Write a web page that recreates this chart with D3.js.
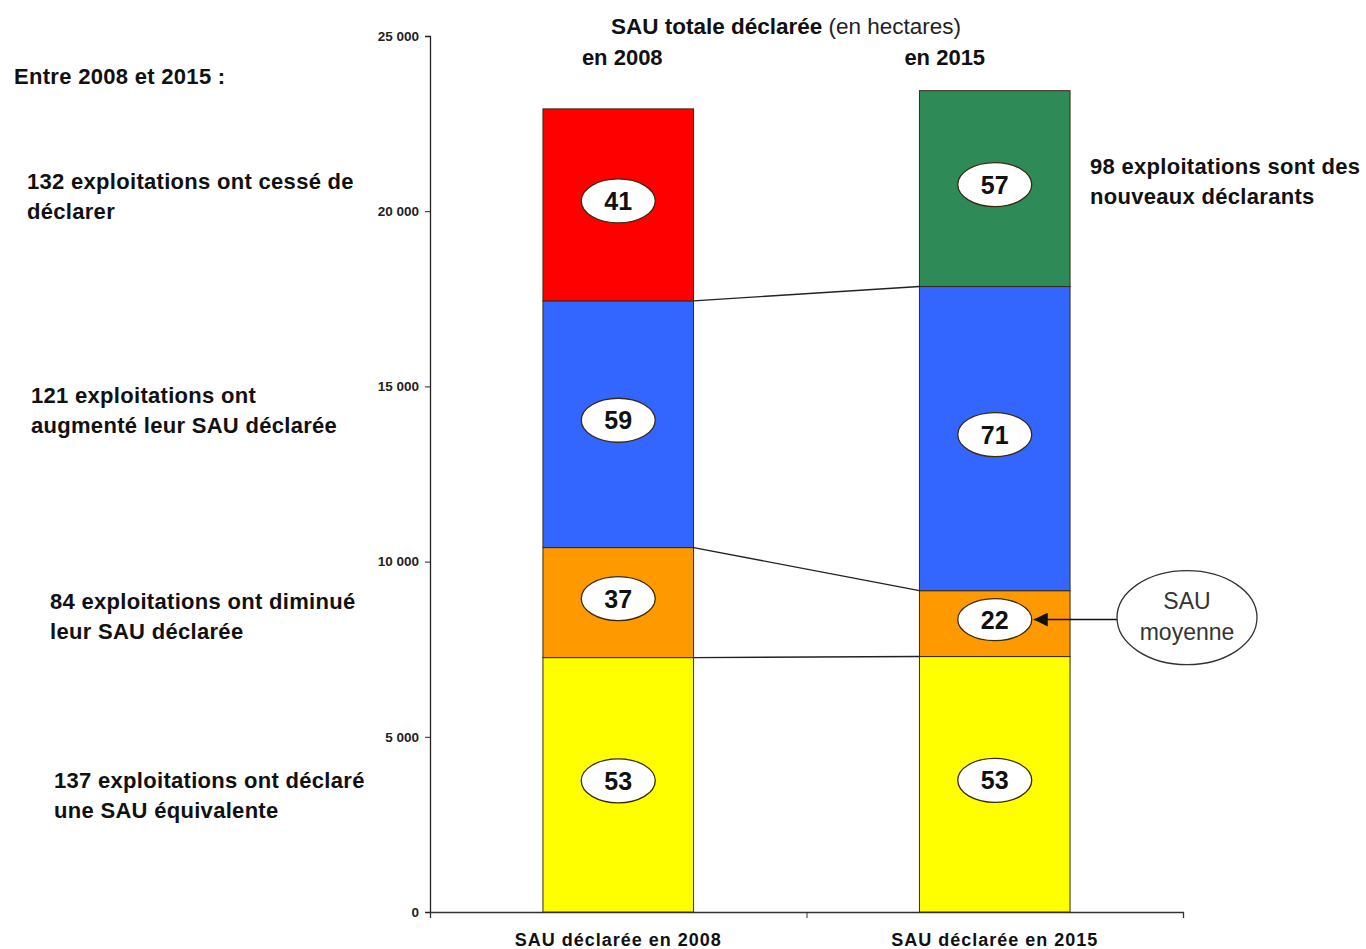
<!DOCTYPE html>
<html>
   <head>
      <meta charset="utf-8">
      <style>
         body { margin: 0; background: #fff; }
         text { font-family: "Liberation Sans", Arial, sans-serif; fill: #111; }
         .note { font-size: 22px; font-weight: bold; letter-spacing: 0.3px; }
         .tick text { font-size: 13.5px; font-weight: bold; fill: #222; }
         .badge text { font-size: 25px; font-weight: bold; text-anchor: middle; }
      </style>
      <script src="https://cdn.jsdelivr.net/npm/d3@7"></script>
   </head>
   <body>
      <svg width="1366" height="949"></svg>
      <script>
         // donnees (hectares)
         var categories = ["SAU déclarée en 2008", "SAU déclarée en 2015"];
         var years = ["en 2008", "en 2015"];
         var keys = ["equivalente", "diminuee", "augmentee", "cessee", "nouveaux"];
         var equivalente = [7260, 7290];
         var diminuee = [3140, 1880];
         var augmentee = [7040, 8680];
         var cessee = [5480, 0];
         var nouveaux = [0, 5590];
         // SAU moyenne par exploitation (ha)
         var moyEquivalente = [53, 53];
         var moyDiminuee = [37, 22];
         var moyAugmentee = [59, 71];
         var moyCessee = [41, null];
         var moyNouveaux = [null, 57];
         var yTicks = [0, 5000, 10000, 15000, 20000, 25000];
         var colors = ["#ffff00", "#ff9900", "#3366ff", "#ff0000", "#2e8b57"];

         var notesLeft = [
            ["Entre 2008 et 2015 :"],
            ["132 exploitations ont cessé de", "déclarer"],
            ["121 exploitations ont", "augmenté leur SAU déclarée"],
            ["84 exploitations ont diminué", "leur SAU déclarée"],
            ["137 exploitations ont déclaré", "une SAU équivalente"]
         ];
         var noteRight = ["98 exploitations sont des", "nouveaux déclarants"];

         var svg = d3.select("svg");
         var values = { equivalente: equivalente, diminuee: diminuee, augmentee: augmentee, cessee: cessee, nouveaux: nouveaux };
         var moys = { equivalente: moyEquivalente, diminuee: moyDiminuee, augmentee: moyAugmentee, cessee: moyCessee, nouveaux: moyNouveaux };

         var table = categories.map(function(c, i) {
            var row = { cat: c };
            keys.forEach(function(k) { row[k] = values[k][i]; });
            return row;
         });

         var x = d3.scaleBand().domain(categories).range([430, 1183]).paddingInner(0.6).paddingOuter(0.3);
         var xEdge = d3.scaleLinear().domain([0, 2]).range([430, 1183]);
         var y = d3.scaleLinear().domain([0, 25000]).range([912, 36]);

         var series = d3.stack().keys(keys)(table);

         // axes
         svg.append("g")
            .attr("transform", "translate(430,0)")
            .call(d3.axisLeft(y).tickValues(yTicks).tickSize(5)
               .tickFormat(function(d) { return d3.format(",")(d).replace(",", " "); }))
            .call(function(g) {
               g.select(".domain").attr("stroke", "#222").attr("stroke-width", 1.3);
               g.selectAll(".tick line").attr("stroke", "#222");
               g.selectAll(".tick text").attr("x", -11);
            });

         svg.append("g")
            .attr("transform", "translate(0,912)")
            .call(d3.axisBottom(xEdge).tickValues([1, 2]).tickSize(6).tickFormat(""))
            .call(function(g) {
               g.select(".domain").attr("stroke", "#333").attr("stroke-width", 1.3);
               g.selectAll(".tick line").attr("stroke", "#333");
            });

         // barres empilees
         var layer = svg.selectAll(".layer")
            .data(series)
            .enter()
            .append("g")
            .attr("class", "layer")
            .attr("fill", function(d, i) { return colors[i]; });
         layer.selectAll("rect")
            .data(function(d) { return d.filter(function(p) { return p[1] > p[0]; }); })
            .enter()
            .append("rect")
            .attr("x", function(d) { return x(d.data.cat); })
            .attr("y", function(d) { return y(d[1]); })
            .attr("width", x.bandwidth())
            .attr("height", function(d) { return y(d[0]) - y(d[1]); })
            .attr("stroke", "#3a2a10")
            .attr("stroke-width", 1);

         // lignes de liaison entre les deux barres
         var links = series.slice(0, 3);
         svg.selectAll(".link")
            .data(links)
            .enter()
            .append("line")
            .attr("class", "link")
            .attr("x1", x(categories[0]) + x.bandwidth())
            .attr("y1", function(s) { return y(s[0][1]); })
            .attr("x2", x(categories[1]))
            .attr("y2", function(s) { return y(s[1][1]); })
            .attr("stroke", "#222")
            .attr("stroke-width", 1.4);

         // pastilles SAU moyenne
         var badges = [];
         series.forEach(function(s) {
            s.forEach(function(p, i) {
               var m = moys[s.key][i];
               if (m !== null && p[1] > p[0]) {
                  badges.push({ cat: p.data.cat, mid: (p[0] + p[1]) / 2, v: m, small: p[1] - p[0] < 2500 });
               }
            });
         });
         var badge = svg.selectAll(".badge")
            .data(badges)
            .enter()
            .append("g")
            .attr("class", "badge")
            .attr("transform", function(d) {
               return "translate(" + (x(d.cat) + x.bandwidth() / 2) + "," + (y(d.mid) - 4) + ")";
            });
         badge.append("ellipse")
            .attr("rx", 37)
            .attr("ry", function(d) { return d.small ? 21 : 22; })
            .attr("fill", "#fff")
            .attr("stroke", "#3a2a10")
            .attr("stroke-width", 1.3);
         badge.append("text")
            .attr("dy", "0.36em")
            .text(function(d) { return d.v; });

         // titres
         var title = svg.append("text")
            .attr("x", 786)
            .attr("y", 34)
            .attr("text-anchor", "middle")
            .style("font-size", "22.5px");
         title.append("tspan").attr("font-weight", "bold").text("SAU totale déclarée");
         title.append("tspan").attr("font-weight", "normal").attr("fill", "#222").text(" (en hectares)");

         svg.selectAll(".year")
            .data(years)
            .enter()
            .append("text")
            .attr("class", "year")
            .attr("x", function(d, i) { return x(categories[i]) + x.bandwidth() / 2 + (i === 0 ? 4 : -50); })
            .attr("y", 65)
            .attr("text-anchor", "middle")
            .style("font-size", "22px")
            .style("font-weight", "bold")
            .text(function(d) { return d; });

         svg.selectAll(".cat")
            .data(categories)
            .enter()
            .append("text")
            .attr("class", "cat")
            .attr("x", function(d) { return x(d) + x.bandwidth() / 2; })
            .attr("y", 946)
            .attr("text-anchor", "middle")
            .style("font-size", "18px")
            .style("font-weight", "bold")
            .style("letter-spacing", "1px")
            .text(function(d) { return d; });

         // annotations
         var notePos = [[14, 76], [27, 181], [31, 395], [50, 601], [54, 780]];
         notesLeft.forEach(function(lines, i) {
            var t = svg.append("text").attr("class", "note")
               .attr("x", notePos[i][0]).attr("y", notePos[i][1])
               .attr("dominant-baseline", "central");
            lines.forEach(function(l, j) {
               t.append("tspan").attr("x", notePos[i][0]).attr("dy", j === 0 ? 0 : 30).text(l);
            });
         });
         var tr = svg.append("text").attr("class", "note")
            .attr("x", 1090).attr("y", 166).attr("dominant-baseline", "central");
         noteRight.forEach(function(l, j) {
            tr.append("tspan").attr("x", 1090).attr("dy", j === 0 ? 0 : 30).text(l);
         });

         // bulle SAU moyenne avec fleche
         var small = badges.filter(function(d) { return d.small; })[0];
         var by = y(small.mid) - 4;
         svg.append("defs").append("marker")
            .attr("id", "head")
            .attr("viewBox", "0 0 10 10")
            .attr("refX", 10).attr("refY", 5)
            .attr("markerWidth", 22).attr("markerHeight", 14)
            .attr("markerUnits", "userSpaceOnUse")
            .attr("orient", "auto")
            .append("path").attr("d", "M0,0L10,5L0,10z").attr("fill", "#111");
         svg.append("line")
            .attr("x1", 1117).attr("y1", by)
            .attr("x2", x(small.cat) + x.bandwidth() / 2 + 39).attr("y2", by)
            .attr("stroke", "#111").attr("stroke-width", 1.5)
            .attr("marker-end", "url(#head)");
         svg.append("ellipse")
            .attr("cx", 1187).attr("cy", by - 2)
            .attr("rx", 70).attr("ry", 47)
            .attr("fill", "#fff").attr("stroke", "#333").attr("stroke-width", 1.3);
         var sm = svg.append("text")
            .attr("x", 1187).attr("y", by - 19)
            .attr("text-anchor", "middle")
            .attr("dominant-baseline", "central")
            .style("font-size", "23px")
            .style("fill", "#333");
         sm.append("tspan").attr("x", 1187).text("SAU");
         sm.append("tspan").attr("x", 1187).attr("dy", 31).text("moyenne");
      </script>
   </body>
</html>
